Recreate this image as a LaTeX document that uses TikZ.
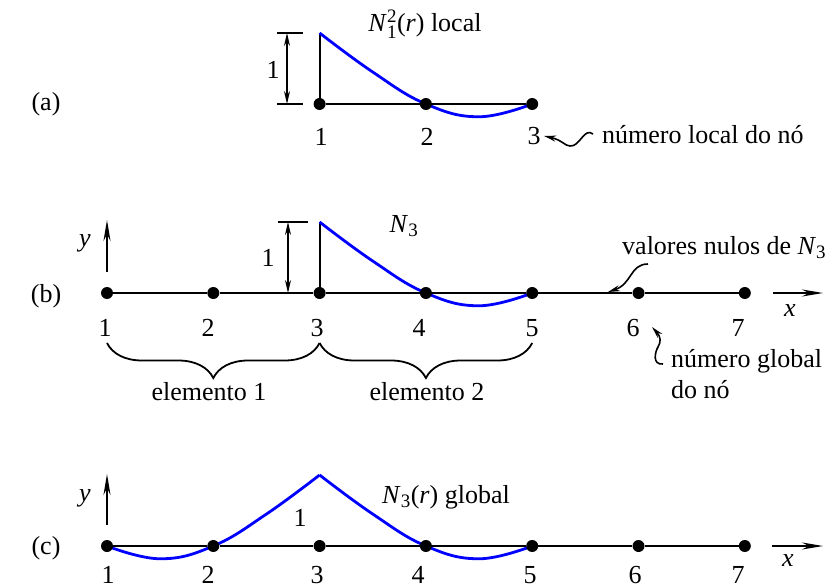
\documentclass[tikz,border=0pt]{standalone}
\usepackage{amsmath}
\usepackage{fontspec}
\setmainfont{Liberation Serif}
\usetikzlibrary{arrows.meta,decorations.pathreplacing,backgrounds}

\newcommand{\scr}[1]{\text{\fontsize{19}{22}\selectfont #1}}

\tikzset{
  dot/.style={circle,fill=black,inner sep=0pt,minimum size=12pt},
  thinln/.style={line width=1.9pt},
  thickln/.style={line width=2.9pt},
  shapefn/.style={blue,line width=2.8pt},
  dimarrow/.style={line width=1.6pt,{Stealth[length=13pt,width=6pt]}-{Stealth[length=13pt,width=6pt]}},
  axisarrow/.style={line width=1.8pt,-{Stealth[length=21pt,width=7pt]}},
  callout/.style={line width=1.6pt,-{Stealth[length=12pt,width=6pt]}},
  elbrace/.style={decorate,decoration={brace,mirror,amplitude=35pt},line width=1.8pt}
}

\begin{document}
\begin{tikzpicture}[x=1pt,y=-1pt,font=\fontsize{26}{31}\selectfont]
  \useasboundingbox (0,0) rectangle (829,588);
  % (a) elemento local
  \node (ta) at (46,104) {(a)};
  \node[dot] (a1) at (319.6,104) {}; \node[dot] (a2) at (425.9,104) {}; \node[dot] (a3) at (532.2,104) {};
  \coordinate (a1top) at (319.6,33);
  \coordinate (da1) at (277,33); \coordinate (da2) at (303,33);
  \coordinate (da3) at (277,104); \coordinate (da4) at (303,104);
  \coordinate (dat) at (287,33); \coordinate (dab) at (287,104);
  \node (dal) at (273,70) {1};
  \node (la1) at (321,137) {1}; \node (la2) at (427,137) {2}; \node (la3) at (534,136) {3};
  \node (tna) at (425,24) {\textit{N}$^{\scr{2}}_{\scr{1}}$(\textit{r}) local};
  \node[anchor=west,inner sep=0pt] (numlocal) at (602,135) {número local do nó};
  \coordinate (sqa) at (593,134);
  \draw[callout] (sqa) .. controls (584,127) and (580,147) .. (570,146)
    .. controls (565,146) and (562,140) .. (la3.east);
  \begin{scope}[on background layer]
    \draw[thinln] (a1) -- (a2) -- (a3); \draw[thinln] (a1.center) -- (a1top);
    \draw[thinln] (da1) -- (da2); \draw[thinln] (da3) -- (da4);
    \draw[dimarrow] (dat) -- (dab);
    \begin{scope}[shift={(319.6,104)},x=106.3pt,y=71pt]
      \draw[shapefn] plot[smooth,tension=0.7] coordinates {(0,1) (0.5,0.45) (1,0) (1.5,-0.18) (2,0)};
    \end{scope}
  \end{scope}

  % (b) malha global
  \node (tb) at (46,296) {(b)};
  \node[dot] (b1) at (107,293) {}; \node[dot] (b2) at (213.3,293) {}; \node[dot] (b3) at (319.6,293) {};
  \node[dot] (b4) at (425.9,293) {}; \node[dot] (b5) at (532.2,293) {}; \node[dot] (b6) at (638.5,293) {};
  \node[dot] (b7) at (744.8,293) {};
  \coordinate (b3top) at (319.6,222);
  \coordinate (db1) at (278,222); \coordinate (db2) at (308,222);
  \coordinate (dbt) at (288,222); \coordinate (dbb) at (288,293);
  \node (dbl) at (268,258) {1};
  \coordinate (yb0) at (107,272); \coordinate (yb1) at (107,220);
  \coordinate (xb0) at (773,293); \coordinate (xb1) at (823,293);
  \node (yb) at (85,243) {\textit{y}}; \node (xb) at (790,311) {\textit{x}};
  \node (lb1) at (105,328) {1}; \node (lb2) at (208,328) {2}; \node (lb3) at (317,328) {3};
  \node (lb4) at (419,328) {4}; \node (lb5) at (532,328) {5}; \node (lb6) at (633,328) {6};
  \node (lb7) at (738,328) {7};
  \node (tnb) at (404,226) {\textit{N}$_{\scr{3}}$};
  \node[anchor=west,inner sep=0pt] (nulos) at (622,248) {valores nulos de \textit{N}$_{\scr{3}}$};
  \coordinate (nl0) at (648,264); \coordinate (nl1) at (608,292);
  \draw[callout] (nl0) .. controls (630,264) and (632,284) .. (nl1);
  \node[anchor=north west,align=left,inner sep=0pt] (numglobal) at (671,349) {número global\\do nó};
  \coordinate (gl0) at (663,364); \coordinate (gl1) at (652,327);
  \draw[callout] (gl0) .. controls (652,365) and (655,352) .. (658,347)
    .. controls (661,342) and (661,337) .. (gl1);
  \draw[elbrace] (107,343) -- (319.6,343);
  \draw[elbrace] (319.6,343) -- (532.2,343);
  \node (el1) at (209,392) {elemento 1}; \node (el2) at (427,392) {elemento 2};
  \begin{scope}[on background layer]
    \draw[thickln] (b1) -- (b2) -- (b3); \draw[thinln] (b3) -- (b4) -- (b5);
    \draw[thickln] (b5) -- (b6) -- (b7);
    \draw[thinln] (b3.center) -- (b3top);
    \draw[thinln] (db1) -- (db2); \draw[dimarrow] (dbt) -- (dbb);
    \draw[axisarrow] (yb0) -- (yb1); \draw[axisarrow] (xb0) -- (xb1);
    \begin{scope}[shift={(319.6,293)},x=106.3pt,y=71pt]
      \draw[shapefn] plot[smooth,tension=0.7] coordinates {(0,1) (0.5,0.45) (1,0) (1.5,-0.18) (2,0)};
    \end{scope}
  \end{scope}

  % (c) funcao global
  \node (tc) at (46,548) {(c)};
  \node[dot] (c1) at (107,546) {}; \node[dot] (c2) at (213.3,546) {}; \node[dot] (c3) at (319.6,546) {};
  \node[dot] (c4) at (425.9,546) {}; \node[dot] (c5) at (532.2,546) {}; \node[dot] (c6) at (638.5,546) {};
  \node[dot] (c7) at (744.8,546) {};
  \coordinate (yc0) at (107,525); \coordinate (yc1) at (107,474);
  \coordinate (xc0) at (772,546); \coordinate (xc1) at (823,546);
  \node (yc) at (85,498) {\textit{y}}; \node (xc) at (788,561) {\textit{x}};
  \node (pk) at (300,518) {1};
  \node (tnc) at (446,497) {\textit{N}$_{\scr{3}}$(\textit{r}) global};
  \node (lc1) at (108,575) {1}; \node (lc2) at (208,575) {2}; \node (lc3) at (317,575) {3};
  \node (lc4) at (418,575) {4}; \node (lc5) at (530,575) {5}; \node (lc6) at (635,575) {6};
  \node (lc7) at (738,575) {7};
  \begin{scope}[on background layer]
    \draw[thinln] (c1) -- (c2) -- (c3) -- (c4) -- (c5) -- (c6) -- (c7);
    \draw[axisarrow] (yc0) -- (yc1); \draw[axisarrow] (xc0) -- (xc1);
    \begin{scope}[shift={(319.6,546)},x=106.3pt,y=71pt]
      \draw[shapefn] plot[smooth,tension=0.7] coordinates {(0,1) (0.5,0.45) (1,0) (1.5,-0.18) (2,0)};
    \end{scope}
    \begin{scope}[shift={(319.6,546)},x=-106.3pt,y=71pt]
      \draw[shapefn] plot[smooth,tension=0.7] coordinates {(0,1) (0.5,0.45) (1,0) (1.5,-0.18) (2,0)};
    \end{scope}
  \end{scope}
\end{tikzpicture}
\end{document}
